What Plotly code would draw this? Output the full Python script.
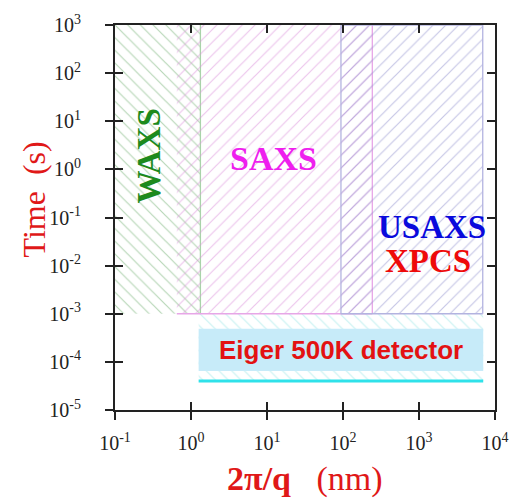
import math
import plotly.graph_objects as go

# Accessible (length scale, time scale) windows of each technique
region_names = ["WAXS", "SAXS", "USAXS/XPCS"]
q_lo = [0.1, 0.65, 94.0]          # 2π/q lower bound (nm)
q_hi = [1.33, 243.0, 6900.0]      # 2π/q upper bound (nm)
t_lo = [1e-3, 1e-3, 1e-3]         # shortest time (s)
t_hi = [1e3, 1e3, 1e3]            # longest time (s)
hatch_shape = ["\\", "/", "/"]
hatch_color = ["#6fae6f", "#d98ad9", "#8e8ecc"]
edge_color = ["#a9d3a9", "#e7a6e7", "#b3b3e0"]
edge_sides = [("right",), ("right", "bottom"), ("left", "right", "top", "bottom")]

# Eiger 500K detector window
det_q = [1.26, 7000.0]
det_t_window = [4e-5, 1e-3]
det_t_box = [6.5e-5, 4.9e-4]
det_t_floor = 4e-5

# Decade ticks
x_ticks = [0.1, 1, 10, 100, 1000, 10000]
x_labels = ["10<sup>-1</sup>", "10<sup>0</sup>", "10<sup>1</sup>",
            "10<sup>2</sup>", "10<sup>3</sup>", "10<sup>4</sup>"]
y_ticks = [1e-5, 1e-4, 1e-3, 1e-2, 1e-1, 1, 10, 100, 1000]
y_labels = ["10<sup>-5</sup>", "10<sup>-4</sup>", "10<sup>-3</sup>",
            "10<sup>-2</sup>", "10<sup>-1</sup>", "10<sup>0</sup>",
            "10<sup>1</sup>", "10<sup>2</sup>", "10<sup>3</sup>"]


def rect(x0, x1, y0, y1):
    return [x0, x1, x1, x0, x0], [y0, y0, y1, y1, y0]


def side(name, x0, x1, y0, y1):
    return {"left": ([x0, x0], [y0, y1]), "right": ([x1, x1], [y0, y1]),
            "top": ([x0, x1], [y1, y1]), "bottom": ([x0, x1], [y0, y0])}[name]


fig = go.Figure()

# Detector hatched window (drawn first, underneath)
xs, ys = rect(det_q[0], det_q[1], det_t_window[0], det_t_window[1])
fig.add_trace(go.Scatter(
    x=xs, y=ys, mode="lines", fill="toself", line=dict(width=0),
    fillcolor="rgba(0,0,0,0)",
    fillpattern=dict(shape="\\", fgcolor="#8fe3e3", bgcolor="rgba(0,0,0,0)",
                     size=9, solidity=0.13, fillmode="overlay"),
    hoverinfo="skip", showlegend=False))

# Technique regions
for name, x0, x1, y0, y1, shp, hc, ec, sides in zip(
        region_names, q_lo, q_hi, t_lo, t_hi,
        hatch_shape, hatch_color, edge_color, edge_sides):
    xs, ys = rect(x0, x1, y0, y1)
    fig.add_trace(go.Scatter(
        x=xs, y=ys, mode="lines", fill="toself", name=name,
        line=dict(width=0),
        fillcolor="rgba(0,0,0,0)",
        fillpattern=dict(shape=shp, fgcolor=hc, bgcolor="rgba(0,0,0,0)",
                         size=9, solidity=0.13, fillmode="overlay"),
        hoverinfo="skip", showlegend=False))
    for s in sides:
        sx, sy = side(s, x0, x1, y0, y1)
        fig.add_trace(go.Scatter(x=sx, y=sy, mode="lines",
                                 line=dict(width=1.3, color=ec),
                                 hoverinfo="skip", showlegend=False))

# Detector box and its floor line
xs, ys = rect(det_q[0], det_q[1], det_t_box[0], det_t_box[1])
fig.add_trace(go.Scatter(
    x=xs, y=ys, mode="lines", fill="toself", line=dict(width=0),
    fillcolor="#c7ebf9", hoverinfo="skip", showlegend=False))
fig.add_trace(go.Scatter(
    x=det_q, y=[det_t_floor, det_t_floor], mode="lines",
    line=dict(width=3, color="#2fe2ea"), hoverinfo="skip", showlegend=False))

# Invisible trace carrying the overlaid tick axes
fig.add_trace(go.Scatter(x=[1], y=[1], xaxis="x2", yaxis="y2", mode="markers",
                         marker=dict(opacity=0), hoverinfo="skip", showlegend=False))

serif = "Liberation Serif"
det_center_q = math.sqrt(det_q[0] * det_q[1])
det_center_t = math.sqrt(det_t_box[0] * det_t_box[1])
nb = "\u00a0"

annotations = [
    dict(x=-0.557, y=0.28, text="WAXS", textangle=-90, showarrow=False,
         font=dict(family=serif, size=33, color="#1d8a1d", weight="bold")),
    dict(x=1.085, y=0.23, text="SAXS", showarrow=False,
         font=dict(family=serif, size=34, color="#ee1fee", weight="bold")),
    dict(x=3.17, y=-1.195, text="USAXS", showarrow=False,
         font=dict(family=serif, size=33, color="#0a0adc", weight="bold")),
    dict(x=3.115, y=-1.905, text="XPCS", showarrow=False,
         font=dict(family=serif, size=33, color="#ee0a0a", weight="bold")),
    dict(x=math.log10(det_center_q), y=math.log10(det_center_t),
         text="Eiger 500K detector", showarrow=False,
         font=dict(family="Liberation Sans", size=26, color="#e31212", weight="bold")),
    dict(xref="paper", yref="paper", x=-0.214, y=0.546, text="Time" + nb * 2 + "(s)",
         textangle=-90, showarrow=False, xanchor="center", yanchor="middle",
         font=dict(family=serif, size=32, color="#e01818")),
    dict(xref="paper", yref="paper", x=0.5, y=-0.18,
         text="<b>2\u03c0/q</b>" + nb * 3 + "(nm)", showarrow=False,
         xanchor="center", yanchor="middle",
         font=dict(family=serif, size=34, color="#e01818")),
]

axis_font = dict(family=serif, size=20, color="#222222")
fig.update_layout(
    width=521, height=503,
    margin=dict(l=115, r=19, t=23, b=93),
    paper_bgcolor="white", plot_bgcolor="white",
    xaxis=dict(type="log", range=[-1, 4], tickvals=x_ticks, ticktext=x_labels,
               ticks="outside", ticklen=8, tickwidth=1.5, tickcolor="#222222",
               showline=True, linecolor="#222222", linewidth=2, mirror=True,
               showgrid=False, zeroline=False, tickfont=axis_font,
               ticklabelstandoff=6),
    yaxis=dict(type="log", range=[-5, 3], tickvals=y_ticks, ticktext=y_labels,
               ticks="outside", ticklen=8, tickwidth=1.5, tickcolor="#222222",
               showline=True, linecolor="#222222", linewidth=2, mirror=True,
               showgrid=False, zeroline=False, tickfont=axis_font,
               ticklabelstandoff=20),
    xaxis2=dict(type="log", range=[-1, 4], overlaying="x", anchor="y",
                tickvals=x_ticks, ticks="inside", ticklen=8, tickwidth=1.5,
                tickcolor="#222222", mirror="ticks", showticklabels=False,
                showline=False, showgrid=False, zeroline=False),
    yaxis2=dict(type="log", range=[-5, 3], overlaying="y", anchor="x",
                tickvals=y_ticks, ticks="inside", ticklen=8, tickwidth=1.5,
                tickcolor="#222222", mirror="ticks", showticklabels=False,
                showline=False, showgrid=False, zeroline=False),
    annotations=annotations,
)

fig.write_html("out.html")
